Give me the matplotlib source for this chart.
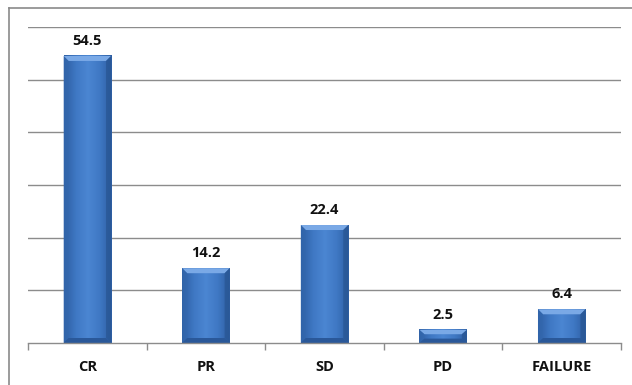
import numpy as np
import matplotlib.pyplot as plt
from matplotlib.colors import LinearSegmentedColormap
from matplotlib.patches import Polygon
from matplotlib.lines import Line2D

categories = ['CR', 'PR', 'SD', 'PD', 'FAILURE']
values = [54.5, 14.2, 22.4, 2.5, 6.4]

W, H = 632, 385
fig = plt.figure(figsize=(W / 100, H / 100), dpi=100)
ax = fig.add_axes([28 / W, 42 / H, 593 / W, 316 / H])

# frame around the chart area (runs off the right and bottom)
fig.add_artist(Line2D([9 / W, 1.0], [1 - 8 / H] * 2, transform=fig.transFigure,
                      color='#8a8a8a', lw=1.2))
fig.add_artist(Line2D([9 / W] * 2, [0, 1 - 8 / H], transform=fig.transFigure,
                      color='#8a8a8a', lw=1.2))

x = np.arange(len(categories))
bar_w = 0.4
ax.set_xlim(-0.5, len(categories) - 0.5)
ax.set_ylim(0, 60)

grid_c = '#8c8c8c'
for yv in range(10, 61, 10):
    ax.axhline(yv, color=grid_c, lw=1.0, zorder=0)

side_cmap = LinearSegmentedColormap.from_list(
    'side', ['#2e5fa3', '#3f78c4', '#4b86d2', '#3f78c4', '#2e5fa3'])

# bevel size in data units (about 5 px)
px_x = (len(categories)) / 593
px_y = 60 / 316
bx, by = 5 * px_x, 5 * px_y

lab_font = dict(fontsize=10.5, fontweight='bold', family='Open Sans', color='#111111')

for xi, v in zip(x, values):
    x0, x1 = xi - bar_w / 2, xi + bar_w / 2
    grad = np.linspace(0, 1, 64).reshape(1, -1)
    ax.imshow(grad, cmap=side_cmap, aspect='auto', extent=[x0, x1, 0, v],
              zorder=2, interpolation='bicubic')
    b = min(by, v / 3)
    # top bevel
    ax.add_patch(Polygon([[x0, v], [x1, v], [x1 - bx, v - b], [x0 + bx, v - b]],
                         closed=True, fc='#7aa9e6', ec='none', zorder=3))
    # left / right bevels
    ax.add_patch(Polygon([[x0, v], [x0 + bx, v - b], [x0 + bx, b], [x0, 0]],
                         closed=True, fc='#3367ad', ec='none', zorder=3, alpha=0.7))
    ax.add_patch(Polygon([[x1, v], [x1 - bx, v - b], [x1 - bx, b], [x1, 0]],
                         closed=True, fc='#285592', ec='none', zorder=3, alpha=0.7))
    # bottom bevel
    ax.add_patch(Polygon([[x0, 0], [x1, 0], [x1 - bx, b], [x0 + bx, b]],
                         closed=True, fc='#2a5899', ec='none', zorder=3))
    ax.text(xi, v + 1.5, f'{v}', ha='center', va='bottom', zorder=4, **lab_font)

for s in ['top', 'right', 'left']:
    ax.spines[s].set_visible(False)
ax.spines['bottom'].set_color(grid_c)
ax.spines['bottom'].set_linewidth(1.0)
ax.spines['bottom'].set_zorder(5)

ax.set_yticks([])
ax.set_xticks(np.arange(-0.5, len(categories), 1.0), minor=False)
ax.set_xticklabels([])
ax.tick_params(axis='x', which='major', length=5, color=grid_c, width=1.0)
ax.set_xticks(x, minor=True)
ax.set_xticklabels(categories, minor=True, **lab_font)
ax.tick_params(axis='x', which='minor', length=0, pad=12)

fig.savefig('out.png', dpi=100, facecolor='white')
